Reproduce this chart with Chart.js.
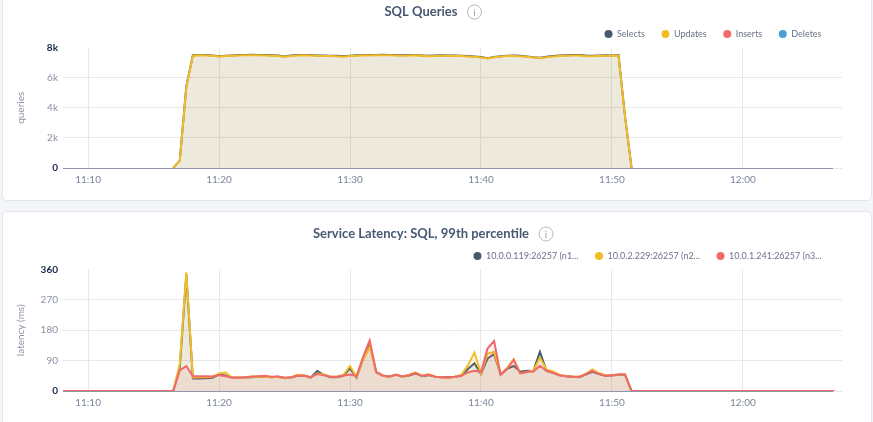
<!DOCTYPE html>
<html><head><meta charset="utf-8">
<script src="https://cdn.jsdelivr.net/npm/chart.js@4.4.0/dist/chart.umd.min.js"></script>
<style>
html,body{margin:0;padding:0;background:#f4f5f8;width:873px;height:422px;overflow:hidden;font-family:Lato,sans-serif;}
.card{position:absolute;left:2px;width:870px;background:#fff;border:1px solid #e3e6ec;border-radius:5px;box-sizing:border-box;}
#card1{top:-6px;height:207px;}
#card2{top:211px;height:222px;}
canvas{position:absolute;left:0;}
#c1{top:0;}
#c2{top:222px;}
</style></head><body>
<div class="card" id="card1"></div><div class="card" id="card2"></div>
<canvas id="c1" width="873" height="200"></canvas>
<canvas id="c2" width="873" height="201"></canvas>
<script>
// ---------- data ----------
const queryStart = '11:16:30';      // first sample of the SQL Queries series
const latencyStart = '11:08:00';    // first sample of the latency series
const sampleSeconds = 30;           // sample spacing

const xTickLabels = ['11:10', '11:20', '11:30', '11:40', '11:50', '12:00'];
const xRange = ['11:08:05', '12:07:34'];

const queryTickValues = [0, 2000, 4000, 6000, 8000];
const queryTickLabels = ['0', '2k', '4k', '6k', '8k'];
const latencyTickValues = [0, 90, 180, 270, 360];
const latencyTickLabels = ['0', '90', '180', '270', '360'];

const selects = [0, 490, 5420, 7490, 7505, 7495, 7475, 7425, 7455, 7475,
  7495, 7505, 7515, 7505, 7495, 7485, 7465, 7405, 7465, 7495,
  7505, 7495, 7475, 7465, 7455, 7445, 7415, 7455, 7485, 7505,
  7495, 7505, 7515, 7505, 7495, 7485, 7495, 7505, 7475, 7445,
  7465, 7485, 7475, 7465, 7455, 7435, 7405, 7365, 7295, 7375,
  7425, 7455, 7465, 7445, 7405, 7355, 7325, 7385, 7435, 7465,
  7485, 7495, 7495, 7465, 7445, 7475, 7485, 7475, 7495, 3420, 0];
const updates = [0, 480, 5400, 7460, 7480, 7470, 7450, 7400, 7430, 7450,
  7470, 7480, 7490, 7480, 7470, 7460, 7440, 7380, 7440, 7470,
  7480, 7470, 7450, 7440, 7430, 7420, 7390, 7430, 7460, 7480,
  7470, 7480, 7490, 7480, 7470, 7460, 7470, 7480, 7450, 7420,
  7440, 7460, 7450, 7440, 7430, 7410, 7380, 7340, 7270, 7350,
  7400, 7430, 7440, 7420, 7380, 7330, 7300, 7360, 7410, 7440,
  7460, 7470, 7470, 7440, 7420, 7450, 7460, 7450, 7470, 3400, 0];
const inserts = [];
const deletes = [];

const latencyN1 = [0, 0, 0, 0, 0, 0, 0, 0, 0, 0, 0, 0, 0, 0, 0, 0, 0, 0,
  70, 345, 37, 37, 38, 39, 49, 46, 39, 39,
  40, 41, 42, 43, 41, 42, 38, 40, 45, 46,
  40, 59, 48, 41, 41, 45, 67, 40, 95, 140,
  55, 45, 42, 48, 42, 46, 52, 44, 47, 42,
  41, 41, 42, 45, 65, 82, 50, 96, 110, 49,
  66, 74, 57, 60, 59, 116, 60, 54, 47, 44,
  42, 41, 49, 57, 50, 45, 46, 48, 48,
  0, 0, 0, 0, 0, 0, 0, 0, 0, 0, 0, 0, 0, 0, 0, 0,
  0, 0, 0, 0, 0, 0, 0, 0, 0, 0, 0, 0, 0, 0, 0, 0];
const latencyN2 = [0, 0, 0, 0, 0, 0, 0, 0, 0, 0, 0, 0, 0, 0, 0, 0, 0, 0,
  80, 352, 40, 41, 41, 42, 52, 55, 39, 39,
  40, 42, 43, 42, 40, 42, 38, 41, 48, 47,
  40, 52, 50, 42, 42, 48, 74, 42, 92, 131,
  55, 45, 42, 49, 42, 48, 55, 45, 50, 42,
  41, 38, 42, 48, 76, 114, 52, 111, 116, 50,
  68, 94, 52, 57, 60, 99, 64, 58, 48, 44,
  42, 42, 51, 64, 53, 47, 47, 49, 49,
  0, 0, 0, 0, 0, 0, 0, 0, 0, 0, 0, 0, 0, 0, 0, 0,
  0, 0, 0, 0, 0, 0, 0, 0, 0, 0, 0, 0, 0, 0, 0, 0];
const latencyN3 = [0, 0, 0, 0, 0, 0, 0, 0, 0, 0, 0, 0, 0, 0, 0, 0, 0, 0,
  61, 74, 44, 44, 44, 43, 47, 44, 40, 40,
  41, 43, 44, 45, 42, 43, 40, 41, 46, 45,
  41, 50, 47, 42, 42, 46, 49, 44, 101, 150,
  57, 46, 43, 48, 44, 47, 53, 45, 48, 42,
  41, 40, 42, 45, 55, 60, 56, 126, 148, 48,
  66, 92, 52, 56, 58, 75, 60, 54, 46, 44,
  42, 42, 50, 60, 51, 45, 47, 49, 49,
  0, 0, 0, 0, 0, 0, 0, 0, 0, 0, 0, 0, 0, 0, 0, 0,
  0, 0, 0, 0, 0, 0, 0, 0, 0, 0, 0, 0, 0, 0, 0, 0];

const queryLabels = ['Selects', 'Updates', 'Inserts', 'Deletes'];
const latencyLabels = ['10.0.0.119:26257 (n1...', '10.0.2.229:26257 (n2...', '10.0.1.241:26257 (n3...'];

// ---------- helpers ----------
function toMin(s) { const p = s.split(':').map(Number); return p[0] * 60 + p[1] + (p[2] || 0) / 60; }
function series(start, values) {
  const t0 = toMin(start);
  return values.map((v, i) => ({ x: t0 + i * sampleSeconds / 60, y: v }));
}
const COLORS = { gray: '#475872', yellow: '#f2bd25', red: '#f16969', blue: '#4e9fd1' };
function fillOf(hex) {
  const n = parseInt(hex.slice(1), 16);
  return `rgba(${n >> 16},${(n >> 8) & 255},${n & 255},0.1)`;
}
function ds(label, data, color, order) {
  return { label, data, borderColor: color, backgroundColor: fillOf(color), fill: 'origin',
    borderWidth: 2, pointRadius: 0, pointHoverRadius: 0, tension: 0, order };
}

const iconPlugin = {
  id: 'infoIcon',
  afterDraw(chart) {
    const tb = chart.titleBlock; if (!tb) return;
    const ctx = chart.ctx;
    const t = chart.options.plugins.title;
    ctx.save();
    ctx.font = 'bold 13px Lato';
    const w = ctx.measureText(t.text).width;
    const cx = (tb.left + tb.right) / 2 + w / 2 + 17;
    const cy = tb.top + 4.2 + 7.8;
    ctx.beginPath(); ctx.arc(cx, cy, 7, 0, Math.PI * 2);
    ctx.strokeStyle = '#b3b8c2'; ctx.lineWidth = 1; ctx.stroke();
    ctx.fillStyle = '#9aa0ac'; ctx.font = '10px Lato'; ctx.textAlign = 'center'; ctx.textBaseline = 'middle';
    ctx.fillText('i', cx, cy + 0.5);
    ctx.restore();
  }
};
const axisLinePlugin = {
  id: 'axisLine',
  afterLayout(chart) {
    if (chart.legend) { chart.legend.right -= 4; }
  },
  beforeDatasetsDraw(chart) {
    const a = chart.chartArea, ctx = chart.ctx;
    ctx.save(); ctx.strokeStyle = '#9096a8'; ctx.lineWidth = 1;
    ctx.beginPath(); ctx.moveTo(a.left, Math.round(a.bottom) + 0.5); ctx.lineTo(a.right - 9, Math.round(a.bottom) + 0.5); ctx.stroke();
    ctx.restore();
  }
};

function options(title, yTitle, tickValues, tickLabels) {
  const yMax = tickValues[tickValues.length - 1];
  const xTicks = xTickLabels.map(toMin);
  return {
    responsive: false, animation: false, events: [],
    layout: { padding: { top: 0, right: 31, bottom: 10, left: 0 } },
    plugins: {
      title: { display: true, text: title, color: '#475872', font: { family: 'Lato', size: 13, weight: 'bold' },
        padding: { top: 4.2, bottom: -6.8 } },
      legend: { display: true, position: 'top', align: 'end', maxHeight: 34.5,
        labels: { usePointStyle: true, pointStyle: 'circle', boxHeight: 5.66, pointStyleWidth: 8, padding: 16.5,
          color: '#6a7285', font: { family: 'Lato', size: 9 },
          sort: (a, b) => a.datasetIndex - b.datasetIndex,
          generateLabels(chart) {
            return Chart.defaults.plugins.legend.labels.generateLabels(chart).map(it => {
              const c = chart.data.datasets[it.datasetIndex].borderColor;
              return Object.assign(it, { fillStyle: c, strokeStyle: c, lineWidth: 0 });
            });
          } } },
      tooltip: { enabled: false }
    },
    scales: {
      x: { type: 'linear', min: toMin(xRange[0]), max: toMin(xRange[1]),
        afterBuildTicks(s) { s.ticks = xTicks.map(v => ({ value: v })); },
        afterFit(s) { s.height = 22; },
        border: { display: false },
        grid: { color: '#e8e8e8', lineWidth: 1, drawTicks: false },
        ticks: { padding: 6, color: '#7c859a', font: { family: 'Lato', size: 10 }, maxRotation: 0, autoSkip: false,
          callback: v => xTickLabels[xTicks.findIndex(t => Math.abs(t - v) < 1e-6)] }
      },
      y: { min: 0, max: yMax,
        afterBuildTicks(s) { s.ticks = tickValues.map(v => ({ value: v })); },
        afterFit(s) { s.width = 63; },
        border: { display: false },
        grid: { drawTicks: false, color: c => (c.tick && c.tick.value === yMax) ? 'rgba(0,0,0,0)' : '#e8e8e8' },
        title: { display: true, text: yTitle, color: '#8c95a8', font: { family: 'Lato', size: 10 }, padding: { top: 15, bottom: 0 } },
        ticks: { padding: 5, font: c => ({ family: 'Lato', size: 10, weight: (c.tick && (c.tick.value === 0 || c.tick.value === yMax)) ? 'bold' : 'normal' }),
          color: c => (c.tick && (c.tick.value === 0 || c.tick.value === yMax)) ? '#16264a' : '#8890a2',
          callback: v => tickLabels[tickValues.indexOf(v)] }
      }
    }
  };
}

function draw() {
  new Chart(document.getElementById('c1'), {
    type: 'line',
    data: { datasets: [
      ds(queryLabels[0], series(queryStart, selects), COLORS.gray, 4),
      ds(queryLabels[1], series(queryStart, updates), COLORS.yellow, 3),
      ds(queryLabels[2], series(queryStart, inserts), COLORS.red, 2),
      ds(queryLabels[3], series(queryStart, deletes), COLORS.blue, 1)
    ] },
    options: options('SQL Queries', 'queries', queryTickValues, queryTickLabels),
    plugins: [iconPlugin, axisLinePlugin]
  });
  new Chart(document.getElementById('c2'), {
    type: 'line',
    data: { datasets: [
      ds(latencyLabels[0], series(latencyStart, latencyN1), COLORS.gray, 3),
      ds(latencyLabels[1], series(latencyStart, latencyN2), COLORS.yellow, 2),
      ds(latencyLabels[2], series(latencyStart, latencyN3), COLORS.red, 1)
    ] },
    options: options('Service Latency: SQL, 99th percentile', 'latency (ms)', latencyTickValues, latencyTickLabels),
    plugins: [iconPlugin, axisLinePlugin]
  });
}
const fontLoads = document.fonts ? Promise.all([
  document.fonts.load('bold 13px Lato'), document.fonts.load('10px Lato'), document.fonts.load('bold 10px Lato'),
  document.fonts.load('9px Lato')
]).catch(() => {}) : Promise.resolve();
fontLoads.then(draw, draw);
</script>
</body></html>
